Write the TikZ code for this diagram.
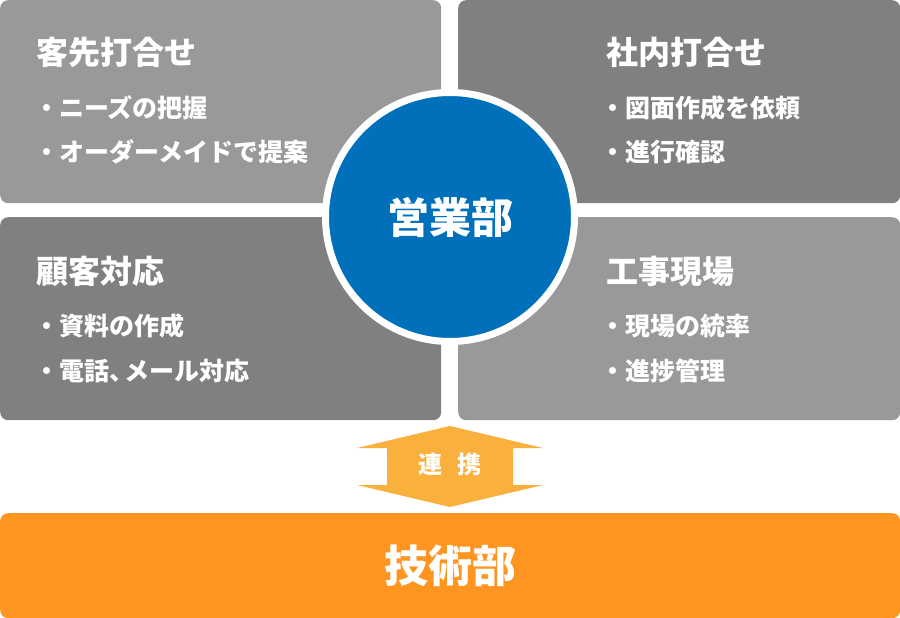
\documentclass[tikz,border=0pt]{standalone}
\usepackage{fontspec}
\setmainfont{Noto Sans CJK JP}
\usetikzlibrary{positioning}

\definecolor{panellight}{HTML}{999999}
\definecolor{paneldark}{HTML}{808080}
\definecolor{salesblue}{HTML}{0070BB}
\definecolor{techorange}{HTML}{FF9521}
\definecolor{linkorange}{HTML}{F9B03D}

\begin{document}
\begin{tikzpicture}[
			x=1pt, y=-1pt,
			panel/.style={rectangle, rounded corners=8pt, inner sep=0pt, minimum width=441pt, minimum height=203pt, anchor=north west},
			title/.style={anchor=west, inner sep=0pt, text=white, font=\bfseries\fontsize{32}{32}\selectfont},
			item/.style={anchor=west, inner sep=0pt, text=white, font=\bfseries\fontsize{25}{25}\selectfont},
			hub/.style={circle, fill=salesblue, draw=white, line width=7pt, minimum size=249pt, inner sep=0pt, text=white, font=\bfseries\fontsize{42}{42}\selectfont}
			]
			
			\useasboundingbox (0,0) rectangle (900,618);
			
			% Four panels
			\node[panel, fill=panellight] (client) at (0,0) {};
			\node[panel, fill=paneldark, minimum width=442pt] (office) at (458,0) {};
			\node[panel, fill=paneldark] (support) at (0,217) {};
			\node[panel, fill=panellight, minimum width=442pt] (site) at (458,217) {};
			
			% Panel texts
			\node[title] (client_t) at (36,52) {客先打合せ};
			\node[item] (client_a) at (34,108) {・ニーズの把握};
			\node[item] (client_b) at (34,152) {・オーダーメイドで提案};
			
			\node[title] (office_t) at (606,52) {社内打合せ};
			\node[item] (office_a) at (600,108) {・図面作成を依頼};
			\node[item] (office_b) at (600,152) {・進行確認};
			
			\node[title] (support_t) at (36,271) {顧客対応};
			\node[item] (support_a) at (34,326) {・資料の作成};
			\node[item] (support_b) at (34,371) {・電話、\kern-10ptメール対応};
			
			\node[title] (site_t) at (606,271) {工事現場};
			\node[item] (site_a) at (600,326) {・現場の統率};
			\node[item] (site_b) at (600,371) {・進捗管理};
			
			% Sales circle
			\node[hub] (sales) at (450,217) {営業部};
			
			% Technical bar
			\node[rectangle, rounded corners=8pt, fill=techorange, minimum width=900pt, minimum height=105pt, anchor=north west, inner sep=0pt] (tech) at (0,513) {};
			\node[text=white, font=\bfseries\fontsize{44}{44}\selectfont] (tech_t) at (tech.center) {技術部};
			
			% Link arrow
			\coordinate (link_top) at (450,426);
			\coordinate (link_bot) at (450,507);
			\fill[linkorange] (link_top) -- (543,448) -- (513,448) -- (513,485) -- (543,485)
				-- (link_bot) -- (357,485) -- (387,485) -- (387,448) -- (357,448) -- cycle;
			\node[text=white, font=\bfseries\fontsize{24}{24}\selectfont] (link) at (450,464) {連\hspace{16pt}携};
			
		\end{tikzpicture}
\end{document}
